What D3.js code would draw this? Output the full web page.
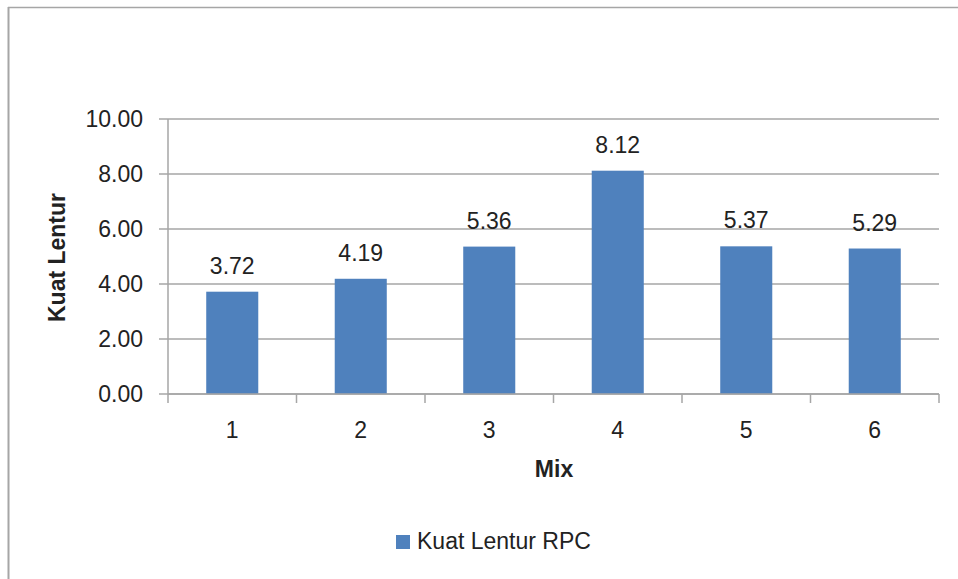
<!DOCTYPE html>
<html><head><meta charset="utf-8">
<script src="https://cdn.jsdelivr.net/npm/d3@7"></script>
<style>body{margin:0;background:#fff;} text{font-family:"Liberation Sans",Arial,sans-serif;fill:#222;}</style>
</head><body>
<svg id="c" width="958" height="579"></svg>
<script>
const categories = ["1","2","3","4","5","6"];
const values = [3.72, 4.19, 5.36, 8.12, 5.37, 5.29];
const yTicks = [0, 2, 4, 6, 8, 10];
const seriesName = "Kuat Lentur RPC";
const xTitle = "Mix";
const yTitle = "Kuat Lentur";

const svg = d3.select("#c");
const W = 958, H = 579;
const L = 168, R = 939, T = 119, B = 394;
const FS = 23;

// outer frame
svg.append("line").attr("x1",8.5).attr("x2",8.5).attr("y1",7).attr("y2",H).attr("stroke","#a6a6a6").attr("stroke-width",2);
svg.append("line").attr("x1",8).attr("x2",W).attr("y1",7.5).attr("y2",7.5).attr("stroke","#a6a6a6").attr("stroke-width",1.5);

const x = d3.scaleBand().domain(categories).range([L, R]).paddingInner(0.595).paddingOuter(0.2975);
const xb = d3.scaleBand().domain(categories).range([L, R]);
const y = d3.scaleLinear().domain([0, 10]).range([B, T]);

// gridlines
svg.append("g").selectAll("line").data(yTicks).join("line")
  .attr("x1", L - 9).attr("x2", R).attr("y1", d => y(d)).attr("y2", d => y(d))
  .attr("stroke", "#a6a6a6").attr("stroke-width", 1.5);

// y axis line
svg.append("line").attr("x1",L).attr("x2",L).attr("y1",T).attr("y2",B).attr("stroke","#a6a6a6").attr("stroke-width",1.5);

// y tick labels
svg.append("g").selectAll("text").data(yTicks).join("text")
  .attr("x", L - 25).attr("y", d => y(d)).attr("dy", "0.35em")
  .attr("text-anchor", "end").attr("font-size", FS)
  .text(d => d3.format(".2f")(d));

// bars
svg.append("g").selectAll("rect").data(values).join("rect")
  .attr("x", (d, i) => x(categories[i])).attr("width", x.bandwidth())
  .attr("y", d => y(d)).attr("height", d => B - y(d))
  .attr("fill", "#4f81bd");

// x axis line and ticks
svg.append("line").attr("x1",L).attr("x2",R).attr("y1",B).attr("y2",B).attr("stroke","#a6a6a6").attr("stroke-width",1.5);
const bounds = categories.map(c => xb(c)).concat([R]);
svg.append("g").selectAll("line").data(bounds).join("line")
  .attr("x1", d => d).attr("x2", d => d).attr("y1", B).attr("y2", B + 9)
  .attr("stroke", "#a6a6a6").attr("stroke-width", 1.5);

// x labels
svg.append("g").selectAll("text").data(categories).join("text")
  .attr("x", d => xb(d) + xb.bandwidth()/2).attr("y", 438)
  .attr("text-anchor", "middle").attr("font-size", FS).text(d => d);

// data labels
svg.append("g").selectAll("text").data(values).join("text")
  .attr("x", (d, i) => x(categories[i]) + x.bandwidth()/2).attr("y", d => y(d) - 18)
  .attr("text-anchor", "middle").attr("font-size", FS).text(d => d3.format(".2f")(d));

// axis titles
svg.append("text").attr("x", 554).attr("y", 477).attr("text-anchor","middle")
  .attr("font-size", 23).attr("font-weight","bold").text(xTitle);
svg.append("text").attr("transform", `translate(65,${(T+B)/2 + 1}) rotate(-90)`)
  .attr("text-anchor","middle").attr("font-size", 23).attr("font-weight","bold").text(yTitle);

// legend
svg.append("rect").attr("x", 396).attr("y", 535).attr("width", 14).attr("height", 14).attr("fill", "#4f81bd");
svg.append("text").attr("x", 417).attr("y", 549).attr("font-size", FS).text(seriesName);
</script>
</body></html>
